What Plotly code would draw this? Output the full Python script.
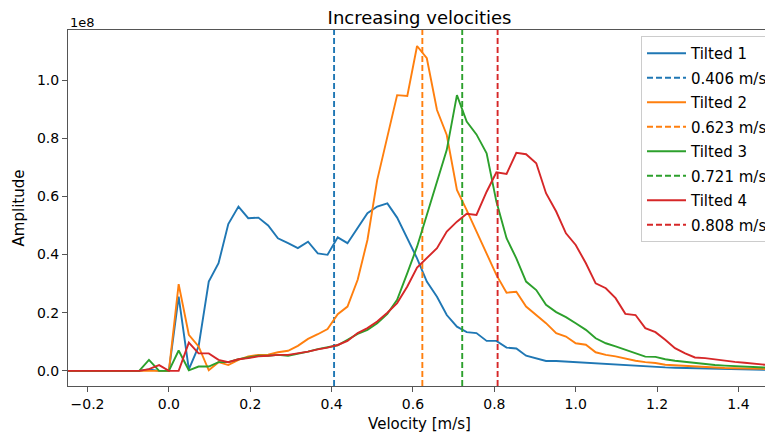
import plotly.graph_objects as go

# Velocity bins [m/s]
velocity = [-0.268, -0.244, -0.220, -0.195, -0.171, -0.146, -0.122, -0.098, -0.073, -0.049,
            -0.024, 0.000, 0.024, 0.049, 0.073, 0.098, 0.122, 0.146, 0.171, 0.195,
            0.220, 0.244, 0.268, 0.293, 0.317, 0.342, 0.366, 0.390, 0.415, 0.439,
            0.464, 0.488, 0.512, 0.537, 0.561, 0.586, 0.610, 0.634, 0.659, 0.683,
            0.708, 0.732, 0.756, 0.781, 0.805, 0.830, 0.854, 0.878, 0.903, 0.927,
            0.952, 0.976, 1.000, 1.025, 1.049, 1.074, 1.098, 1.122, 1.147, 1.171,
            1.196, 1.220, 1.244, 1.269, 1.293, 1.318, 1.342, 1.366, 1.391, 1.415,
            1.440, 1.464, 1.488]

# Amplitudes in units of 1e8
tilted1 = [0, 0, 0, 0, 0, 0, 0, 0, 0, 0.005,
           0, 0, 0.255, 0.005, 0.084, 0.307, 0.37, 0.505, 0.565, 0.525,
           0.527, 0.50, 0.456, 0.439, 0.422, 0.444, 0.404, 0.399, 0.459, 0.439,
           0.49, 0.542, 0.565, 0.576, 0.527, 0.456, 0.387, 0.307, 0.255, 0.192,
           0.152, 0.133, 0.13, 0.103, 0.103, 0.08, 0.077, 0.052, 0.044, 0.034,
           0.034, 0.032, 0.03, 0.027, 0.025, 0.022, 0.021, 0.02, 0.018, 0.016,
           0.014, 0.012, 0.011, 0.01, 0.009, 0.008, 0.007, 0.006, 0.005, 0.005,
           0.004, 0.004, 0.003]
tilted2 = [0, 0, 0, 0, 0, 0, 0, 0, 0, 0,
           0, 0, 0.298, 0.124, 0.084, 0.002, 0.03, 0.02, 0.038, 0.05,
           0.055, 0.056, 0.064, 0.069, 0.086, 0.11, 0.126, 0.144, 0.195, 0.221,
           0.313, 0.45, 0.656, 0.80, 0.948, 0.945, 1.117, 1.075, 0.897, 0.811,
           0.622, 0.553, 0.479, 0.399, 0.33, 0.269, 0.272, 0.221, 0.192, 0.164,
           0.13, 0.118, 0.095, 0.09, 0.064, 0.055, 0.05, 0.042, 0.035, 0.03,
           0.027, 0.021, 0.019, 0.016, 0.014, 0.012, 0.011, 0.01, 0.009, 0.008,
           0.007, 0.007, 0.006]
tilted3 = [0, 0, 0, 0, 0, 0, 0, 0, 0, 0.038,
           0, 0, 0.07, 0.002, 0.015, 0.015, 0.03, 0.03, 0.04, 0.046,
           0.052, 0.052, 0.055, 0.052, 0.058, 0.066, 0.075, 0.082, 0.088, 0.107,
           0.127, 0.141, 0.164, 0.196, 0.244, 0.336, 0.427, 0.536, 0.65, 0.76,
           0.948, 0.857, 0.813, 0.748, 0.582, 0.456, 0.387, 0.307, 0.278, 0.227,
           0.202, 0.185, 0.164, 0.141, 0.112, 0.095, 0.084, 0.073, 0.059, 0.049,
           0.048, 0.04, 0.035, 0.031, 0.027, 0.024, 0.02, 0.018, 0.016, 0.014,
           0.012, 0.011, 0.01]
tilted4 = [0, 0, 0, 0, 0, 0, 0, 0, 0, 0.006,
           0.02, 0, 0, 0.097, 0.06, 0.06, 0.038, 0.03, 0.04, 0.044,
           0.05, 0.052, 0.055, 0.055, 0.06, 0.066, 0.074, 0.08, 0.089, 0.103,
           0.13, 0.147, 0.17, 0.2, 0.233, 0.29, 0.355, 0.387, 0.422, 0.479,
           0.513, 0.54, 0.536, 0.616, 0.683, 0.677, 0.75, 0.745, 0.714, 0.611,
           0.548, 0.473, 0.433, 0.37, 0.301, 0.284, 0.25, 0.196, 0.192, 0.147,
           0.133, 0.107, 0.078, 0.06, 0.046, 0.044, 0.039, 0.035, 0.031, 0.028,
           0.024, 0.02, 0.018]

series_names = ["Tilted 1", "Tilted 2", "Tilted 3", "Tilted 4"]
mean_velocities = [0.406, 0.623, 0.721, 0.808]
mean_labels = ["0.406 m/s", "0.623 m/s", "0.721 m/s", "0.808 m/s"]
colors = ["#1f77b4", "#ff7f0e", "#2ca02c", "#d62728"]

X_RANGE = [-0.248, 1.48]
Y_RANGE = [-0.052, 1.172]
y_ticks = [0.0, 0.2, 0.4, 0.6, 0.8, 1.0]
x_ticks = [-0.2, 0.0, 0.2, 0.4, 0.6, 0.8, 1.0, 1.2, 1.4]

FONT = "DejaVu Sans"
TICK_FS = 14
LABEL_FS = 15
LEGEND_FS = 15
SPINE = "#555555"

fig = go.Figure()
for i, (name, vals) in enumerate(zip(series_names, [tilted1, tilted2, tilted3, tilted4])):
    fig.add_trace(go.Scatter(x=velocity, y=vals, mode="lines", name=name,
                             line=dict(color=colors[i], width=1.9),
                             legendgroup=f"g{2*i}"))
    fig.add_trace(go.Scatter(x=[mean_velocities[i], mean_velocities[i]], y=Y_RANGE,
                             mode="lines", name=mean_labels[i],
                             line=dict(color=colors[i], width=1.9, dash="6px,3px"),
                             legendgroup=f"g{2*i+1}"))

# page body has an 8px margin; the figure is sized/offset to compensate
fig.update_layout(
    width=765, height=430,
    margin=dict(l=60, r=0, t=22, b=52),
    paper_bgcolor="white", plot_bgcolor="white",
    font=dict(family=FONT, size=TICK_FS, color="black"),
    title=dict(text="Increasing velocities", x=0.5, xref="paper", xanchor="center",
               y=1 - 9.5 / 430, yref="container", yanchor="middle",
               font=dict(size=18)),
    showlegend=True,
    legend=dict(x=(643 - 68) / 705, y=(386 - 36) / 356, xanchor="left", yanchor="top",
                bgcolor="rgba(255,255,255,0.8)", bordercolor="#cccccc", borderwidth=1,
                font=dict(size=LEGEND_FS), tracegroupgap=2, traceorder="grouped",
                itemwidth=39),
    xaxis=dict(range=X_RANGE, tickvals=x_ticks,
               ticktext=[f"{v:.1f}".replace("-", "\u2212") for v in x_ticks],
               showgrid=False, zeroline=False, showline=True, linecolor=SPINE, linewidth=1,
               mirror=True, ticks="outside", ticklen=5, tickwidth=1, tickcolor=SPINE,
               title=dict(text="Velocity [m/s]", standoff=7, font=dict(size=LABEL_FS))),
    yaxis=dict(range=Y_RANGE, tickvals=y_ticks, ticktext=[f"{v:.1f}" for v in y_ticks],
               showgrid=False, zeroline=False, showline=True, linecolor=SPINE, linewidth=1,
               ticks="outside", ticklen=5, tickwidth=1, tickcolor=SPINE,
               title=dict(text="Amplitude", standoff=8, font=dict(size=LABEL_FS))),
    annotations=[dict(text="1e8", xref="paper", yref="paper", x=0, y=1,
                      xanchor="left", yanchor="bottom", showarrow=False, yshift=-2,
                      font=dict(size=13))],
)
fig.write_html("out.html")
